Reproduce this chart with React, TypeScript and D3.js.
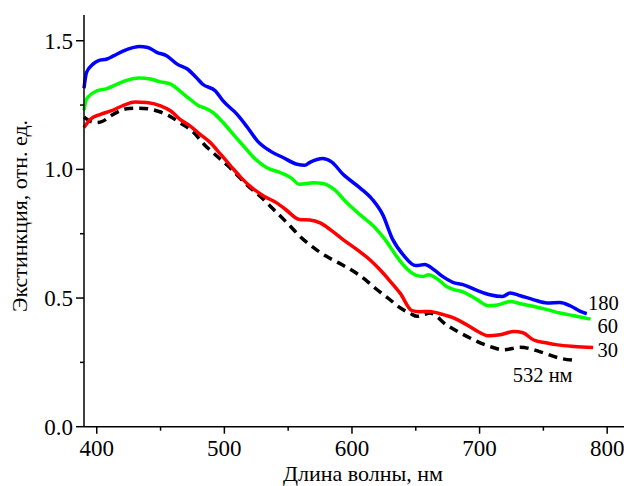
import React, { useRef, useEffect } from 'react';
import * as d3 from 'd3';

// wavelength (nm), extinction (rel. units)
const series180: [number, number][] = [
  [390, 1.315], [392, 1.377], [397, 1.409], [401, 1.422], [408, 1.429], [413, 1.441],
  [421, 1.461], [429, 1.474], [433, 1.478], [440, 1.474], [447, 1.455], [455, 1.441],
  [463, 1.409], [471, 1.39], [478, 1.357], [483, 1.331], [493, 1.305], [499, 1.266],
  [510, 1.214], [518, 1.164], [526, 1.11], [536, 1.071], [546, 1.046], [557, 1.02],
  [563, 1.016], [567, 1.027], [577, 1.042], [584, 1.029], [593, 0.981], [606, 0.929],
  [616, 0.883], [624, 0.825], [632, 0.727], [640, 0.669], [650, 0.626], [657, 0.63],
  [664, 0.611], [671, 0.584], [679, 0.561], [687, 0.552], [698, 0.53], [708, 0.513],
  [718, 0.506], [724, 0.52], [732, 0.509], [742, 0.494], [753, 0.481], [763, 0.483],
  [771, 0.47], [779, 0.448], [784, 0.439],
];

const series60: [number, number][] = [
  [390, 1.23], [392, 1.273], [400, 1.305], [408, 1.314], [416, 1.331], [424, 1.347],
  [433, 1.355], [442, 1.351], [450, 1.34], [458, 1.331], [465, 1.305], [473, 1.273],
  [480, 1.247], [484, 1.24], [491, 1.221], [499, 1.182], [507, 1.136], [515, 1.091],
  [523, 1.046], [533, 1.007], [544, 0.987], [552, 0.968], [559, 0.942], [570, 0.948],
  [578, 0.944], [586, 0.922], [596, 0.87], [606, 0.825], [617, 0.779], [626, 0.727],
  [634, 0.669], [640, 0.63], [650, 0.589], [656, 0.584], [660, 0.591], [667, 0.574],
  [674, 0.545], [680, 0.533], [686, 0.526], [698, 0.494], [707, 0.47], [715, 0.474],
  [724, 0.487], [732, 0.478], [742, 0.468], [753, 0.455], [763, 0.442], [774, 0.431],
  [787, 0.418],
];

const series30: [number, number][] = [
  [390, 1.163], [395, 1.195], [403, 1.214], [411, 1.227], [421, 1.249], [430, 1.262],
  [439, 1.26], [450, 1.247], [458, 1.227], [465, 1.195], [473, 1.169], [481, 1.136],
  [489, 1.104], [497, 1.059], [505, 1.013], [512, 0.974], [520, 0.935], [531, 0.896],
  [541, 0.87], [548, 0.844], [559, 0.805], [567, 0.803], [575, 0.792], [583, 0.766],
  [593, 0.727], [604, 0.688], [614, 0.649], [622, 0.61], [630, 0.565], [638, 0.517],
  [647, 0.451], [653, 0.447], [661, 0.448], [669, 0.439], [680, 0.422], [690, 0.396],
  [699, 0.369], [707, 0.353], [716, 0.357], [727, 0.37], [734, 0.365], [742, 0.338],
  [752, 0.326], [761, 0.318], [774, 0.312], [789, 0.308],
];

const series532: [number, number][] = [
  [390, 1.203], [395, 1.187], [400, 1.182], [405, 1.188], [411, 1.208], [418, 1.227],
  [425, 1.237], [433, 1.238], [442, 1.234], [450, 1.223], [456, 1.21], [465, 1.182],
  [476, 1.143], [484, 1.098], [494, 1.052], [503, 1.013], [512, 0.968], [520, 0.929],
  [528, 0.896], [536, 0.857], [548, 0.798], [562, 0.727], [572, 0.688], [580, 0.662],
  [592, 0.63], [603, 0.598], [612, 0.565], [618, 0.539], [628, 0.501], [638, 0.461],
  [646, 0.439], [651, 0.429], [656, 0.435], [661, 0.442], [674, 0.396], [690, 0.351],
  [708, 0.312], [719, 0.299], [732, 0.309], [747, 0.292], [763, 0.266], [776, 0.257],
];

const xTicks = [400, 500, 600, 700, 800];
const xMinor = [450, 550, 650, 750];
const yTicks = [0, 0.5, 1.0, 1.5];
const yMinor = [0.25, 0.75, 1.25];

const FONT = '"Liberation Serif", "Times New Roman", serif';

const App = () => {
  const svgRef = useRef<SVGSVGElement>(null);

  useEffect(() => {
    const svg = d3.select(svgRef.current);
    svg.selectAll('*').remove();

    const x = d3.scaleLinear().domain([390, 820]).range([84, 632.7]);
    const y = d3.scaleLinear().domain([0, 1.6]).range([426.7, 15]);

    const line = d3.line<[number, number]>()
      .x(d => x(d[0]))
      .y(d => y(d[1]))
      .curve(d3.curveMonotoneX);

    const curves = [
      { data: series532, color: '#000000', dash: '9 6' },
      { data: series30, color: '#ff0000', dash: null },
      { data: series60, color: '#00ff00', dash: null },
      { data: series180, color: '#0000ff', dash: null },
    ];

    curves.forEach(c => {
      svg.append('path')
        .attr('d', line(c.data))
        .attr('fill', 'none')
        .attr('stroke', c.color)
        .attr('stroke-width', 3.5)
        .attr('stroke-linejoin', 'round')
        .attr('stroke-dasharray', c.dash);
    });

    // axes
    const ax = svg.append('g').attr('stroke', '#000').attr('stroke-width', 1.5);
    ax.append('line').attr('x1', x(390)).attr('x2', 640).attr('y1', y(0)).attr('y2', y(0));
    ax.append('line').attr('x1', x(390)).attr('x2', x(390)).attr('y1', y(0)).attr('y2', y(1.6));

    xTicks.forEach(t => {
      ax.append('line').attr('x1', x(t)).attr('x2', x(t)).attr('y1', y(0)).attr('y2', y(0) + 7);
    });
    xMinor.forEach(t => {
      ax.append('line').attr('x1', x(t)).attr('x2', x(t)).attr('y1', y(0)).attr('y2', y(0) + 4);
    });
    yTicks.forEach(t => {
      ax.append('line').attr('x1', x(390) - 8).attr('x2', x(390)).attr('y1', y(t)).attr('y2', y(t));
    });
    yMinor.forEach(t => {
      ax.append('line').attr('x1', x(390) - 4).attr('x2', x(390)).attr('y1', y(t)).attr('y2', y(t));
    });

    const txt = svg.append('g')
      .attr('font-family', FONT)
      .attr('fill', '#000');

    xTicks.forEach(t => {
      txt.append('text').attr('x', x(t)).attr('y', 456).attr('font-size', 23)
        .attr('text-anchor', 'middle').text(t);
    });
    yTicks.forEach(t => {
      txt.append('text').attr('x', 73).attr('y', y(t)).attr('dy', '0.35em').attr('font-size', 23)
        .attr('text-anchor', 'end').text(d3.format('.1f')(t));
    });

    txt.append('text').attr('x', 363).attr('y', 481).attr('font-size', 22)
      .attr('text-anchor', 'middle')
      .text('Длина волны, нм');
    txt.append('text')
      .attr('transform', `translate(27,216) rotate(-90)`)
      .attr('font-size', 22)
      .attr('text-anchor', 'middle')
      .text('Экстинкция, отн. ед.');

    // curve labels
    const labels = [
      { text: '180', wl: 785, v: 0.452 },
      { text: '60', wl: 792.5, v: 0.364 },
      { text: '30', wl: 792.5, v: 0.272 },
      { text: '532 нм', wl: 726, v: 0.173 },
    ];
    labels.forEach(l => {
      txt.append('text').attr('x', x(l.wl)).attr('y', y(l.v)).attr('font-size', 20.5).text(l.text);
    });
  }, []);

  return (
    <svg
      ref={svgRef}
      width={624}
      height={486}
      style={{ position: 'absolute', left: 0, top: 0, background: '#fff' }}
    />
  );
};

export default App;
